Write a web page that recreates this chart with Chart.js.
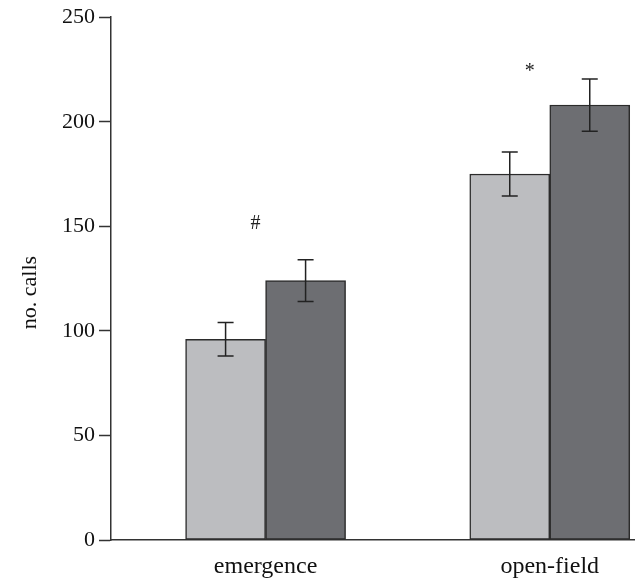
<!DOCTYPE html>
<html>
<head>
<meta charset="utf-8">
<script src="https://cdn.jsdelivr.net/npm/chart.js@4/dist/chart.umd.min.js"></script>
<style>
  html, body { margin: 0; padding: 0; background: #fff; }
</style>
</head>
<body>
<canvas id="callsChart" width="635" height="578"></canvas>
<script>
const categories = ["emergence", "open-field"];
const lightValues = [96, 175];
const darkValues = [124, 208];
const lightErr = [8, 10.5];
const darkErr = [10, 12.5];
const yTicks = [0, 50, 100, 150, 200, 250];
const marks = ["#", "*"];
const markValues = [151, 224];
const yTitle = "no. calls";

const serif = "'Liberation Serif', 'DejaVu Serif', serif";

// error bars, significance marks and the y title
const errorBars = {
  id: "errorBars",
  afterDatasetsDraw(chart) {
    const ctx = chart.ctx;
    const x = chart.scales.x, y = chart.scales.y;
    const errs = [lightErr, darkErr];
    ctx.save();
    ctx.strokeStyle = "#222";
    ctx.lineWidth = 1.5;
    chart.data.datasets.forEach((ds, d) => {
      chart.getDatasetMeta(d).data.forEach((bar, i) => {
        const v = ds.data[i].y, e = errs[d][i];
        const top = y.getPixelForValue(v + e);
        const bot = y.getPixelForValue(v - e);
        ctx.beginPath();
        ctx.moveTo(bar.x, top); ctx.lineTo(bar.x, bot);
        ctx.moveTo(bar.x - 8, top); ctx.lineTo(bar.x + 8, top);
        ctx.moveTo(bar.x - 8, bot); ctx.lineTo(bar.x + 8, bot);
        ctx.stroke();
      });
    });
    const shift = [-10, -20];
    ctx.fillStyle = "#222";
    ctx.font = "20px " + serif;
    ctx.textAlign = "center";
    ctx.textBaseline = "middle";
    marks.forEach((m, i) => {
      ctx.fillText(m, x.getPixelForValue(i + 1) + shift[i], y.getPixelForValue(markValues[i]));
    });

    const area = chart.chartArea;
    ctx.fillStyle = "#111";
    ctx.font = "22px " + serif;
    ctx.translate(30, (area.top + area.bottom) / 2 + 14);
    ctx.rotate(-Math.PI / 2);
    ctx.fillText(yTitle, 0, 0);
    ctx.restore();
  }
};

new Chart(document.getElementById("callsChart"), {
  type: "bar",
  data: {
    datasets: [{
      data: lightValues.map((v, i) => ({ x: i + 1, y: v })),
      backgroundColor: "#bcbdc0"
    }, {
      data: darkValues.map((v, i) => ({ x: i + 1, y: v })),
      backgroundColor: "#6d6e72"
    }]
  },
  options: {
    responsive: false,
    animation: false,
    devicePixelRatio: 1,
    layout: { padding: { top: 16, right: 0, left: 0, bottom: 0 } },
    datasets: {
      bar: { barThickness: 80, borderWidth: 1.5, borderColor: "#2b2b2b", borderSkipped: false }
    },
    plugins: { legend: { display: false }, tooltip: { enabled: false } },
    scales: {
      x: {
        type: "linear",
        offset: false,
        min: 0.456,
        max: 2.3,
        afterBuildTicks: s => { s.ticks = categories.map((c, i) => ({ value: i + 1 })); },
        afterFit: s => { s.height = 38; },
        grid: { display: false, drawTicks: false, offset: false },
        border: { color: "#333", width: 1.5 },
        ticks: {
          callback: v => categories[v - 1],
          font: { family: serif, size: 24 },
          color: "#111",
          padding: 12,
          maxRotation: 0
        }
      },
      y: {
        min: 0,
        max: 250,
        afterBuildTicks: s => { s.ticks = yTicks.map(v => ({ value: v })); },
        afterFit: s => { s.width = 111; },
        grid: { drawOnChartArea: false, tickLength: 12, tickColor: "#333", tickWidth: 1.5 },
        border: { color: "#333", width: 1.5 },
        ticks: { font: { family: serif, size: 22 }, color: "#111", padding: 4 }
      }
    }
  },
  plugins: [errorBars]
});
</script>
</body>
</html>
